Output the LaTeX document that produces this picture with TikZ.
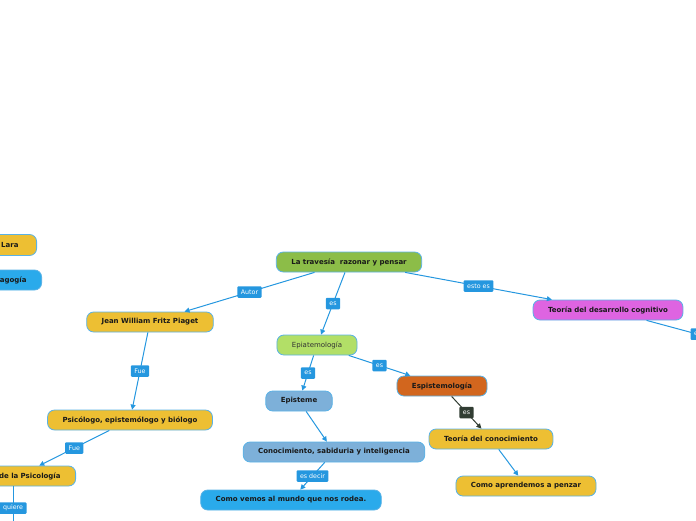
\documentclass[tikz,border=0pt]{standalone}
\usepackage{fontspec}
\setmainfont{DejaVu Sans}
\usepackage{xcolor}
\usetikzlibrary{arrows.meta}
\definecolor{mapyellow}{HTML}{EDBF33}
\definecolor{mapgreen}{HTML}{8CBD48}
\definecolor{maplime}{HTML}{B2DF67}
\definecolor{mapmagenta}{HTML}{DE64E1}
\definecolor{maporange}{HTML}{D2661E}
\definecolor{mapsteel}{HTML}{7DB0D9}
\definecolor{mapsky}{HTML}{2AAAEB}
\definecolor{mapborder}{HTML}{5AB2E6}
\definecolor{maplink}{HTML}{2597DF}
\definecolor{mapdark}{HTML}{313D33}

\begin{document}
\begin{tikzpicture}[
        x=1pt, y=-1pt,
        idea/.style={rectangle, draw=mapborder, line width=0.8pt, rounded corners=7pt, minimum height=20pt, inner xsep=15pt, inner ysep=2pt, font=\fontsize{7}{8}\selectfont\bfseries, text=black!90},
        yellow_idea/.style={idea, fill=mapyellow},
        steel_idea/.style={idea, fill=mapsteel},
        sky_idea/.style={idea, fill=mapsky},
        cut_left/.style={anchor=east, align=right},
        % Connectors and their tags
        link/.style={-{Triangle[length=5pt, width=5pt]}, draw=maplink, line width=1pt},
        dark_link/.style={link, draw=mapdark},
        tag/.style={rectangle, fill=maplink, rounded corners=1pt, text=white, font=\fontsize{6.3}{7}\selectfont, inner xsep=3.5pt, inner ysep=1.5pt, minimum height=11.5pt},
        dark_tag/.style={tag, fill=mapdark}
    ]
    \useasboundingbox (0,0) rectangle (696,520);

    % CENTRAL IDEA
    \node[idea, fill=mapgreen] (root) at (349,262) {La travesía\ \ razonar y pensar};

    % LEFT EDGE (cut by the page)
    \node[yellow_idea, cut_left, text width=60pt, minimum height=21pt, inner xsep=18pt] (lara) at (37,245) {Lara};
    \node[sky_idea, cut_left, text width=60pt] (pedagogia) at (42,280) {agogía};

    % AUTHOR BRANCH
    \node[yellow_idea] (piaget) at (150,322) {Jean William Fritz Piaget};
    \node[yellow_idea] (psicologo) at (130,420) {Psicólogo, epistemólogo y biólogo};
    \node[yellow_idea, cut_left, text width=84pt] (padre) at (76,476) {de la Psicología};
    \coordinate (padre_end) at (13,530);

    % EPISTEMOLOGY BRANCH
    \node[idea, fill=maplime, font=\fontsize{7}{8}\selectfont, text=black!80] (epiat) at (317,345) {Epiatemología};
    \node[steel_idea] (episteme) at (299,401) {Episteme};
    \node[steel_idea] (conocimiento) at (334,452) {Conocimiento, sabiduria y inteligencia};
    \node[sky_idea] (mundo) at (291,500) {Como vemos al mundo que nos rodea.};
    \node[idea, fill=maporange] (espist) at (442,386) {Espistemología};
    \node[yellow_idea] (teoria_con) at (491,439) {Teoría del conocimiento};
    \node[yellow_idea] (aprender) at (526,486) {Como aprendemos a penzar};

    % THEORY BRANCH
    \node[idea, fill=mapmagenta] (teoria_des) at (608,310) {Teoría del desarrollo cognitivo};
    \coordinate (teoria_des_end) at (760,351);

    % Connections
    \draw[link] (root) -- node[tag] {Autor} (piaget);
    \draw[link] (root) -- node[tag] {es} (epiat);
    \draw[link] (root) -- node[tag] {esto es} (teoria_des);
    \draw[link, -] (teoria_des) -- node[tag, pos=0.45] {es} (teoria_des_end);

    \draw[link] (piaget) -- node[tag] {Fue} (psicologo);
    \draw[link] (psicologo) -- node[tag] {Fue} (padre);
    \draw[link, -] (padre.south -| padre_end) -- node[tag, anchor=east, xshift=14pt, text width=24pt, align=right] {quiere} (padre_end);

    \draw[link] (epiat) -- node[tag] {es} (episteme);
    \draw[link] (epiat) -- node[tag] {es} (espist);
    \draw[link] (episteme) -- (conocimiento);
    \draw[link] (conocimiento) -- node[tag] {es decir} (mundo);
    \draw[dark_link] (espist) -- node[dark_tag] {es} (teoria_con);
    \draw[link] (teoria_con) -- (aprender);

\end{tikzpicture}
\end{document}
